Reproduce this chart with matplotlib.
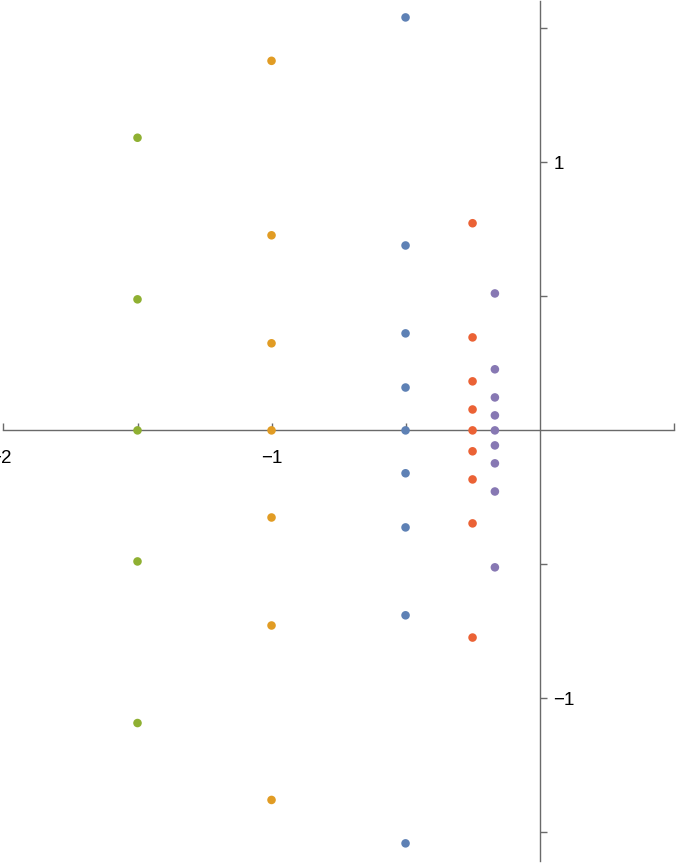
import matplotlib
matplotlib.use("Agg")
import matplotlib.pyplot as plt
import matplotlib.transforms as mtransforms

plt.rcParams['font.family'] = ['Liberation Sans', 'DejaVu Sans']

# series: x position and y values
blue_x = -0.5
blue_y = [1.541, 0.690, 0.362, 0.160, 0.0, -0.160, -0.362, -0.690, -1.541]
orange_x = -1.0
orange_y = [1.379, 0.728, 0.325, 0.0, -0.325, -0.728, -1.379]
green_x = -1.5
green_y = [1.092, 0.489, 0.0, -0.489, -1.092]
red_x = -0.25
red_y = [0.773, 0.347, 0.183, 0.078, 0.0, -0.078, -0.183, -0.347, -0.773]
purple_x = -1/6
purple_y = [0.511, 0.228, 0.123, 0.056, 0.0, -0.056, -0.123, -0.228, -0.511]

series = [
    (blue_x, blue_y, '#5E81B5'),
    (orange_x, orange_y, '#E19C24'),
    (green_x, green_y, '#8FB032'),
    (red_x, red_y, '#EB6235'),
    (purple_x, purple_y, '#8778B3'),
]

xticks = [-2, -1.5, -1, -0.5, 0.5]
xticklabels = ['−2', '', '−1', '', '']
yticks = [-1.5, -1, -0.5, 0.5, 1, 1.5]
yticklabels = ['', '−1', '', '', '1', '']

fig = plt.figure(figsize=(6.76, 8.64), dpi=100)
ax = fig.add_axes([0, 0, 1, 1])
for x, ys, c in series:
    ax.scatter([x] * len(ys), ys, s=38, color=c, edgecolors='none', zorder=3)

ax.set_xlim(-2.013, 0.509)
ax.set_ylim(-1.618, 1.606)

axis_col = '#6a6a6a'
ax.spines['top'].set_visible(False)
ax.spines['left'].set_visible(False)
ax.spines['bottom'].set_position(('data', 0))
ax.spines['right'].set_position(('data', 0))
ax.spines['bottom'].set_bounds(-2.0, 0.5)
ax.spines['right'].set_bounds(-1.607, 1.602)
for s in ('bottom', 'right'):
    ax.spines[s].set_color(axis_col)
    ax.spines[s].set_linewidth(1.0)

ax.xaxis.set_ticks_position('bottom')
ax.yaxis.set_ticks_position('right')
ax.set_xticks(xticks)
ax.set_xticklabels(xticklabels)
ax.set_yticks(yticks)
ax.set_yticklabels(yticklabels)
ax.tick_params(axis='x', direction='in', length=5, width=1.0, color=axis_col,
               labelsize=13.5, pad=14)
ax.tick_params(axis='y', direction='out', length=5, width=1.0, color=axis_col,
               labelsize=13.5, pad=5)
ax.patch.set_alpha(0)

# the leftmost label sits slightly left, its minus sign cut off by the edge
lbl = ax.get_xticklabels()[0]
lbl.set_transform(lbl.get_transform() + mtransforms.ScaledTranslation(-3/100, 0, fig.dpi_scale_trans))

fig.savefig('out.png', dpi=100)
